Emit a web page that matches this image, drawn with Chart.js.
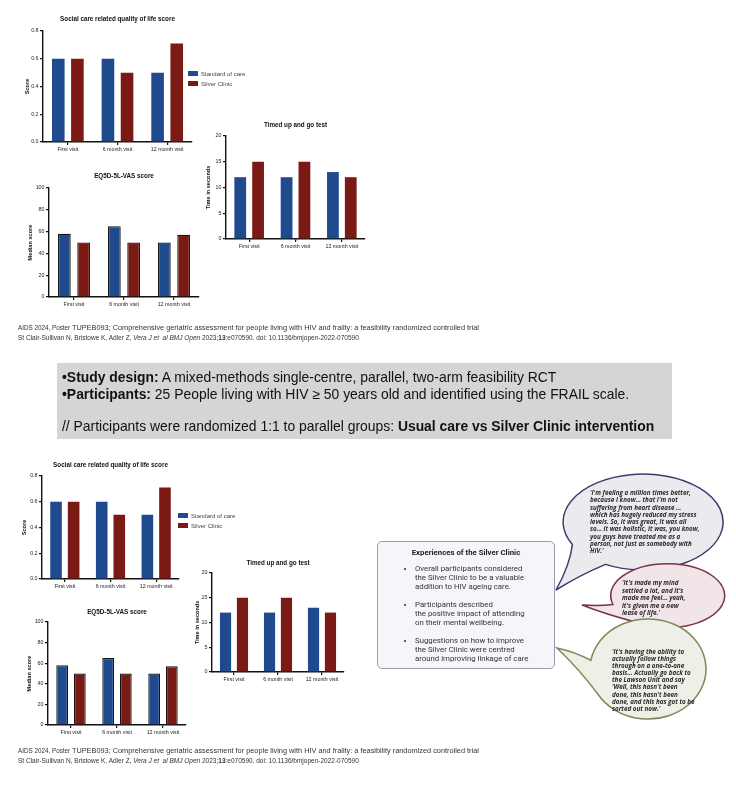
<!DOCTYPE html>
<html>
<head>
<meta charset="utf-8">
<script src="https://cdn.jsdelivr.net/npm/chart.js@4"></script>
<style>
body{margin:0;background:#fff;}
#page{position:relative;width:736px;height:793px;overflow:hidden;background:#fff;font-family:"Liberation Sans",Arial,sans-serif;color:#111;}
canvas{position:absolute;}
.t{position:absolute;white-space:nowrap;filter:grayscale(1);}
.cite1{font-size:7.35px;color:#333;}
.cite1 small{font-size:6.3px;}
.cite2{font-size:6.5px;color:#333;}
.lg{position:absolute;font-size:6px;color:#444;white-space:nowrap;line-height:6px;}
.lg i{display:inline-block;width:10px;height:5px;margin-right:3px;vertical-align:top;}
#design{position:absolute;left:57px;top:363px;width:615px;height:76px;background:#d5d5d5;font-size:13.9px;line-height:17px;color:#111;box-sizing:border-box;padding:6px 0 0 5px;white-space:nowrap;filter:grayscale(1);}
#exp{position:absolute;left:377px;top:541px;width:178px;height:128px;box-sizing:border-box;border:1px solid #9a9aae;border-radius:5px;background:#f6f6fa;font-family:Roboto,sans-serif;font-size:7.8px;line-height:9px;color:#333;white-space:nowrap;}
#exp h4{margin:6px 0 7px;text-align:center;font-size:7.8px;color:#222;filter:grayscale(1);}
#exp ul{margin:0;padding:0 0 0 37px;filter:grayscale(1);}
#exp li{margin-bottom:9px;}
.q{position:absolute;font-family:"Open Sans",sans-serif;font-style:italic;font-weight:700;font-size:6.3px;line-height:7.3px;color:#2a2a2a;white-space:nowrap;filter:grayscale(1);}
svg{position:absolute;left:0;top:0;}
</style>
</head>
<body>
<div id="page">
<canvas id="socialTop"></canvas>
<canvas id="tugTop"></canvas>
<canvas id="vasTop"></canvas>
<canvas id="socialBot"></canvas>
<canvas id="tugBot"></canvas>
<canvas id="vasBot"></canvas>

<div class="lg" style="left:188px;top:71px"><i style="background:#1f4b8e"></i>Standard of care</div>
<div class="lg" style="left:188px;top:81px"><i style="background:#7b1a15"></i>Silver Clinic</div>
<div class="lg" style="left:178px;top:513px"><i style="background:#1f4b8e"></i>Standard of care</div>
<div class="lg" style="left:178px;top:523px"><i style="background:#7b1a15"></i>Silver Clinic</div>

<div class="t cite1" style="left:18px;top:323px"><small>AIDS 2024, Poster </small>TUPEB093; Comprehensive geriatric assessment for people living with HIV and frailty: a feasibility randomized controlled trial</div>
<div class="t cite2" style="left:18px;top:334px">St Clair-Sullivan N, Bristowe K, Adler Z, <i>Vera J et &nbsp;al BMJ Open</i> 2023;<b>13</b>:e070590. doi: 10.1136/bmjopen-2022-070590</div>

<div id="design"><b>•Study design:</b> A mixed-methods single-centre, parallel, two-arm feasibility RCT<br><b>•Participants:</b> 25 People living with HIV ≥ 50 years old and identified using the FRAIL scale.<br><div style="height:15px"></div>// Participants were randomized 1:1 to parallel groups: <b>Usual care vs Silver Clinic intervention</b></div>

<svg width="736" height="793">
<path d="M572.4 544.5 A80 48 0 1 1 605.5 564.4 Q580 575 556 590 Q570 565 572.4 544.5 Z" fill="#ebebef" stroke="#3f3b6c" stroke-width="1.5"/>
<path d="M612.9 605.5 A57 32 0 1 1 635.3 623 Q605 615 582 606 Q600 607 612.9 605.5 Z" fill="#f2e5e7" stroke="#7a3344" stroke-width="1.5" transform="translate(0,-1)"/>
<path d="M590.9 660.3 A58 50 0 1 1 597.8 694 Q580 670 557 648 Q575 652 590.9 660.3 Z" fill="#eef0e7" stroke="#7c8a58" stroke-width="1.5"/>
</svg>

<div id="exp"><h4>Experiences of the Silver Clinic</h4>
<ul>
<li>Overall participants considered<br>the Silver Clinic to be a valuable<br>addition to HIV ageing care.</li>
<li>Participants described<br>the positive impact of attending<br>on their mental wellbeing.</li>
<li>Suggestions on how to improve<br>the Silver Clinic were centred<br>around improving linkage of care</li>
</ul></div>

<div class="q" style="left:590px;top:489px">'I'm feeling a million times better,<br>because I know… that I'm not<br>suffering from heart disease …<br>which has hugely reduced my stress<br>levels. So, it was great, it was all<br>so… it was holistic, it was, you know,<br>you guys have treated me as a<br>person, not just as somebody with<br>HIV.'</div>
<div class="q" style="left:622px;top:579px;line-height:7.5px">'It's made my mind<br>settled a lot, and it's<br>made me feel… yeah,<br>it's given me a new<br>lease of life.'</div>
<div class="q" style="left:612px;top:648px;line-height:7.1px">'It's having the ability to<br>actually follow things<br>through on a one-to-one<br>basis… Actually go back to<br>the Lawson Unit and say<br>'Well, this hasn't been<br>done, this hasn't been<br>done, and this has got to be<br>sorted out now.'</div>

<div class="t cite1" style="left:18px;top:746px"><small>AIDS 2024, Poster </small>TUPEB093; Comprehensive geriatric assessment for people living with HIV and frailty: a feasibility randomized controlled trial</div>
<div class="t cite2" style="left:18px;top:757px">St Clair-Sullivan N, Bristowe K, Adler Z, <i>Vera J et &nbsp;al BMJ Open</i> 2023;<b>13</b>:e070590. doi: 10.1136/bmjopen-2022-070590</div>
</div>

<script>
// data
const visits=["First visit","6 month visit","12 month visit"];
const seriesNames=["Standard of care","Silver Clinic"];
const socialStandard=[0.6,0.6,0.5];
const socialSilver=[0.6,0.5,0.71];
const socialTicks=[0,0.2,0.4,0.6,0.8];
const tugStandard=[12,12,13];
const tugSilver=[15,15,12];
const tugTicks=[0,5,10,15,20];
const vasStandard=[58,65,50];
const vasSilver=[50,50,57];
const vasTicks=[0,20,40,60,80,100];

const FONT="'Liberation Sans', Arial, sans-serif";
const BLUE="#1f4b8e", RED="#7b1a15";

// ax: y axis x, top/bottom: max/zero pixel, right: x axis end, titleY: title centre, ylab: y title centre
function drawBar(id,g,title,yTitle,first,second,ticks,digits,outline){
  const cv=document.getElementById(id);
  const tSize=6.3, yTSize=5.6, lh=tSize*1.2, xh=14;
  const left=Math.round(g.ylab-yTSize*1.2/2), top=Math.round(g.titleY-6);
  const yw=g.ax-left;
  cv.style.left=left+"px"; cv.style.top=top+"px";
  cv.width=Math.round(yw+(g.right-g.ax)+6);
  cv.height=Math.round((g.titleY-top)+(g.bottom-g.titleY)+xh);
  const padTop=(g.titleY-top)-lh/2;
  const bc=outline?"#141414":null;
  new Chart(cv,{
    type:"bar",
    data:{labels:visits,datasets:[
      {label:seriesNames[0],data:first,backgroundColor:BLUE,borderColor:bc||BLUE,borderWidth:outline?1.2:0},
      {label:seriesNames[1],data:second,backgroundColor:RED,borderColor:bc||RED,borderWidth:outline?1.2:0}
    ]},
    options:{
      responsive:false,animation:false,
      layout:{padding:{top:padTop,right:6,bottom:0,left:0}},
      datasets:{bar:{barPercentage:0.66,categoryPercentage:0.77}},
      plugins:{
        legend:{display:false},tooltip:{enabled:false},
        title:{display:true,text:title,fullSize:false,color:"#111",
          font:{family:FONT,size:tSize,weight:"bold"},
          padding:{top:0,bottom:(g.top-g.titleY)-lh/2}}
      },
      scales:{
        x:{
          grid:{drawOnChartArea:false,offset:false,tickLength:3,color:"#111",lineWidth:1.2},
          border:{color:"#111",width:1.4},
          ticks:{font:{family:FONT,size:5.3},color:"#222",padding:1.5,maxRotation:0,autoSkip:false},
          afterFit:s=>{s.height=xh;}
        },
        y:{
          min:ticks[0],max:ticks[ticks.length-1],
          afterBuildTicks:s=>{s.ticks=ticks.map(v=>({value:v}));},
          grid:{drawOnChartArea:false,tickLength:3,color:"#111",lineWidth:1.2},
          border:{color:"#111",width:1.4},
          ticks:{font:{family:FONT,size:5.3},color:"#222",padding:1.5,callback:v=>Number(v).toFixed(digits)},
          title:{display:true,text:yTitle,color:"#111",font:{family:FONT,size:yTSize,weight:"bold"},padding:0},
          afterFit:s=>{s.width=yw;}
        }
      }
    }
  });
}

drawBar("socialTop",{ax:43,top:31,bottom:142,right:192,titleY:19,ylab:27},
  "Social care related quality of life score","Score",socialStandard,socialSilver,socialTicks,1,false);
drawBar("tugTop",{ax:226,top:136,bottom:239,right:365,titleY:125,ylab:208},
  "Timed up and go test","Time in seconds",tugStandard,tugSilver,tugTicks,0,false);
drawBar("vasTop",{ax:49,top:188,bottom:297,right:199,titleY:176,ylab:30},
  "EQ5D-5L-VAS score","Median score",vasStandard,vasSilver,vasTicks,0,true);
drawBar("socialBot",{ax:42,top:476,bottom:579,right:179,titleY:465,ylab:24},
  "Social care related quality of life score","Score",socialStandard,socialSilver,socialTicks,1,false);
drawBar("tugBot",{ax:212,top:573,bottom:672,right:344,titleY:563,ylab:197},
  "Timed up and go test","Time in seconds",tugStandard,tugSilver,tugTicks,0,false);
drawBar("vasBot",{ax:48,top:622,bottom:725,right:186,titleY:612,ylab:29},
  "EQ5D-5L-VAS score","Median score",vasStandard,vasSilver,vasTicks,0,true);
</script>
</body>
</html>
